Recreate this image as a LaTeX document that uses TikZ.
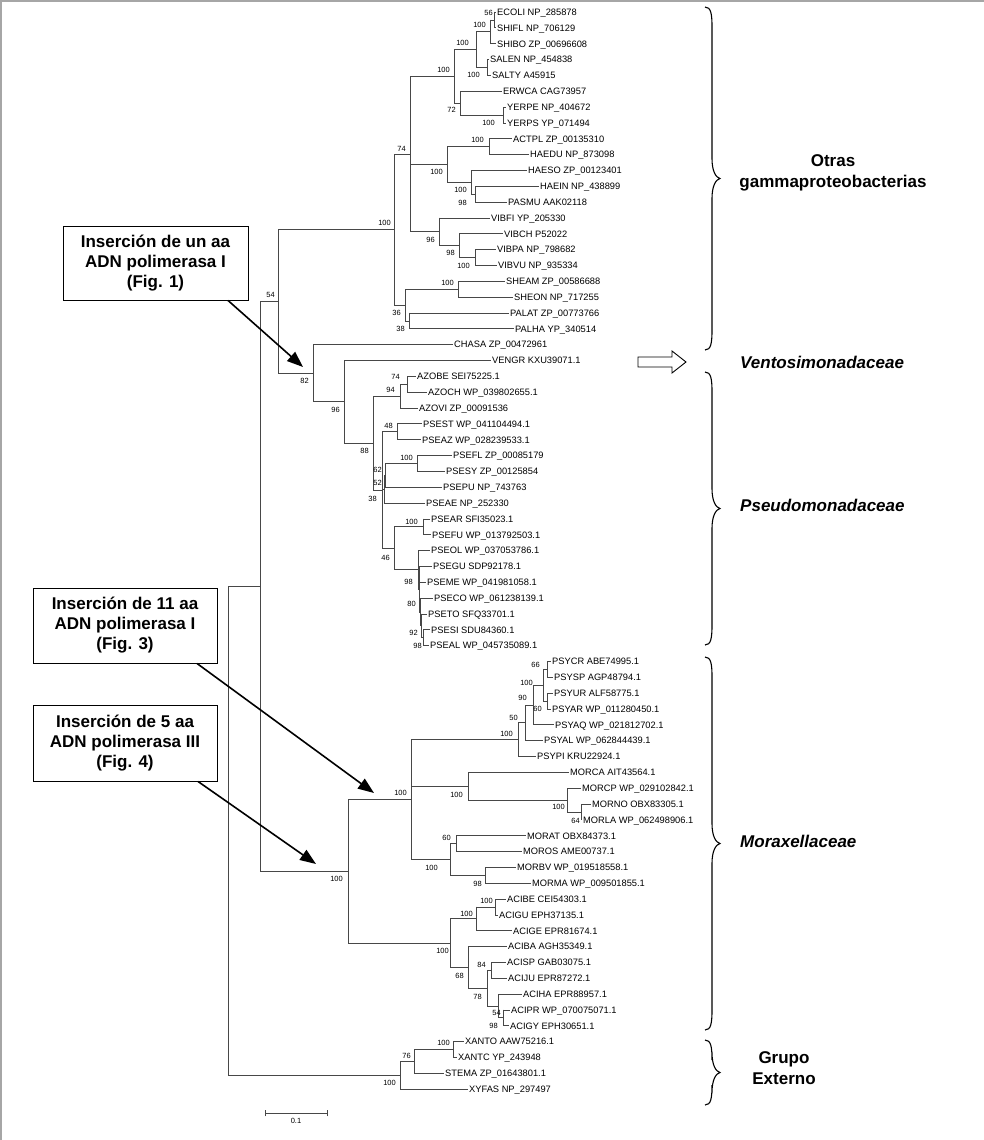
\documentclass[tikz,border=0pt]{standalone}
\usepackage{fontspec}
\setmainfont{Liberation Sans}
\usetikzlibrary{calc,arrows.meta}
\newcommand\leaffont{\fontsize{9.3}{11}\selectfont}
\newcommand\bsfont{\fontsize{7.5}{9}\selectfont}
\newcommand\bigfont{\fontsize{17}{21}\selectfont\bfseries}
\newcommand\boxfont{\fontsize{17}{20}\selectfont\bfseries}
\newcommand\lf[4]{\node[leaf] (#1) at ({#3-1.5},{12+15.84*(#2-1)}) {#4};}
\newcommand\cl[4]{%
  \path let \p1=(#3), \p2=(#4) in coordinate (#1) at (#2pt,{0.5*(\y1+\y2)});
  \draw[br] (#1 |- #3) -- (#1 |- #4);
  \draw[br] (#1 |- #3) -- (#3);
  \draw[br] (#1 |- #4) -- (#4);}
\newcommand\clm[5]{\cl{#1}{#2}{#3}{#4}\foreach \c in {#5} {\draw[br] (#1 |- \c) -- (\c);}}
\newcommand\bs[4]{\node[bsl] (#1) at (#3,#4) {#2};}
\newcommand\mybrace[3]{%
  \pgfmathsetmacro\bm{0.5*(#2+#3)}
  \draw[brc] (705,#2) .. controls (711,#2) and (712,{#2+7}) .. (712,{#2+20})
    -- (712,{\bm-20}) .. controls (712,{\bm-7}) and (716,{\bm-1}) .. (720,\bm)
    .. controls (716,{\bm+1}) and (712,{\bm+7}) .. (712,{\bm+20})
    -- (712,{#3-20}) .. controls (712,{#3-7}) and (711,#3) .. (705,#3);
  \coordinate (#1) at (720,\bm);}
\begin{document}
\begin{tikzpicture}[x=1pt,y=-1pt,
  leaf/.style={anchor=west, inner xsep=1.5pt, inner ysep=0pt, font=\leaffont, text height=6.7pt, text depth=0pt},
  br/.style={draw=black!72, line width=0.75pt, line cap=rect},
  bsl/.style={anchor=east, inner sep=0pt, font=\bsfont, text height=5.4pt, text depth=0pt},
  box/.style={draw, line width=0.9pt, align=center, font=\boxfont, inner sep=0pt, minimum width=185pt, minimum height=74pt},
  grp/.style={align=center, font=\bigfont, inner sep=0pt},
  brc/.style={draw=black, line width=1.1pt},
  arr/.style={line width=1.6pt, -{Triangle[length=16pt,width=12pt]}}]
\useasboundingbox (0,0) rectangle (984,1140);
\fill[white] (0,0) rectangle (984,1140);
\draw[gray!70, line width=1.3pt] (0,1) -- (984,1);
\draw[gray!70, line width=1.6pt] (1,0) -- (1,1140);
% leaves
\lf{ECOLI}{1}{497}{ECOLI NP\_285878}
\lf{SHIFL}{2}{497}{SHIFL NP\_706129}
\lf{SHIBO}{3}{497}{SHIBO ZP\_00696608}
\lf{SALEN}{4}{490}{SALEN NP\_454838}
\lf{SALTY}{5}{492}{SALTY A45915}
\lf{ERWCA}{6}{503}{ERWCA CAG73957}
\lf{YERPE}{7}{507}{YERPE NP\_404672}
\lf{YERPS}{8}{507}{YERPS YP\_071494}
\lf{ACTPL}{9}{513}{ACTPL ZP\_00135310}
\lf{HAEDU}{10}{530}{HAEDU NP\_873098}
\lf{HAESO}{11}{528}{HAESO ZP\_00123401}
\lf{HAEIN}{12}{540}{HAEIN NP\_438899}
\lf{PASMU}{13}{508}{PASMU AAK02118}
\lf{VIBFI}{14}{491}{VIBFI YP\_205330}
\lf{VIBCH}{15}{504}{VIBCH P52022}
\lf{VIBPA}{16}{497}{VIBPA NP\_798682}
\lf{VIBVU}{17}{498}{VIBVU NP\_935334}
\lf{SHEAM}{18}{506}{SHEAM ZP\_00586688}
\lf{SHEON}{19}{514}{SHEON NP\_717255}
\lf{PALAT}{20}{510}{PALAT ZP\_00773766}
\lf{PALHA}{21}{515}{PALHA YP\_340514}
\lf{CHASA}{22}{454}{CHASA ZP\_00472961}
\lf{VENGR}{23}{492}{VENGR KXU39071.1}
\lf{AZOBE}{24}{417}{AZOBE SEI75225.1}
\lf{AZOCH}{25}{428}{AZOCH WP\_039802655.1}
\lf{AZOVI}{26}{419}{AZOVI ZP\_00091536}
\lf{PSEST}{27}{423}{PSEST WP\_041104494.1}
\lf{PSEAZ}{28}{422}{PSEAZ WP\_028239533.1}
\lf{PSEFL}{29}{453}{PSEFL ZP\_00085179}
\lf{PSESY}{30}{446}{PSESY ZP\_00125854}
\lf{PSEPU}{31}{443}{PSEPU NP\_743763}
\lf{PSEAE}{32}{426}{PSEAE NP\_252330}
\lf{PSEAR}{33}{431}{PSEAR SFI35023.1}
\lf{PSEFU}{34}{432}{PSEFU WP\_013792503.1}
\lf{PSEOL}{35}{431}{PSEOL WP\_037053786.1}
\lf{PSEGU}{36}{433}{PSEGU SDP92178.1}
\lf{PSEME}{37}{427}{PSEME WP\_041981058.1}
\lf{PSECO}{38}{434}{PSECO WP\_061238139.1}
\lf{PSETO}{39}{428}{PSETO SFQ33701.1}
\lf{PSESI}{40}{431}{PSESI SDU84360.1}
\lf{PSEAL}{41}{430}{PSEAL WP\_045735089.1}
\lf{PSYCR}{42}{552}{PSYCR ABE74995.1}
\lf{PSYSP}{43}{554}{PSYSP AGP48794.1}
\lf{PSYUR}{44}{554}{PSYUR ALF58775.1}
\lf{PSYAR}{45}{552}{PSYAR WP\_011280450.1}
\lf{PSYAQ}{46}{555}{PSYAQ WP\_021812702.1}
\lf{PSYAL}{47}{544}{PSYAL WP\_062844439.1}
\lf{PSYPI}{48}{537}{PSYPI KRU22924.1}
\lf{MORCA}{49}{570}{MORCA AIT43564.1}
\lf{MORCP}{50}{582}{MORCP WP\_029102842.1}
\lf{MORNO}{51}{592}{MORNO OBX83305.1}
\lf{MORLA}{52}{583}{MORLA WP\_062498906.1}
\lf{MORAT}{53}{527}{MORAT OBX84373.1}
\lf{MOROS}{54}{523}{MOROS AME00737.1}
\lf{MORBV}{55}{517}{MORBV WP\_019518558.1}
\lf{MORMA}{56}{532}{MORMA WP\_009501855.1}
\lf{ACIBE}{57}{507}{ACIBE CEI54303.1}
\lf{ACIGU}{58}{499}{ACIGU EPH37135.1}
\lf{ACIGE}{59}{513}{ACIGE EPR81674.1}
\lf{ACIBA}{60}{508}{ACIBA AGH35349.1}
\lf{ACISP}{61}{507}{ACISP GAB03075.1}
\lf{ACIJU}{62}{508}{ACIJU EPR87272.1}
\lf{ACIHA}{63}{523}{ACIHA EPR88957.1}
\lf{ACIPR}{64}{511}{ACIPR WP\_070075071.1}
\lf{ACIGY}{65}{510}{ACIGY EPH30651.1}
\lf{XANTO}{66}{465}{XANTO AAW75216.1}
\lf{XANTC}{67}{458}{XANTC YP\_243948}
\lf{STEMA}{68}{445}{STEMA ZP\_01643801.1}
\lf{XYFAS}{69}{469}{XYFAS NP\_297497}
% internal nodes
\cl{nES}{494}{ECOLI}{SHIFL}
\cl{nESS}{490}{nES}{SHIBO}
\cl{nSAL}{487}{SALEN}{SALTY}
\cl{nESA}{476}{nESS}{nSAL}
\cl{nYER}{503}{YERPE}{YERPS}
\cl{nERW}{460}{ERWCA}{nYER}
\cl{nENT}{454}{nESA}{nERW}
\cl{nAH}{489}{ACTPL}{HAEDU}
\cl{nHP}{475}{HAEIN}{PASMU}
\cl{nHHP}{471}{HAESO}{nHP}
\cl{nPAS}{447}{nAH}{nHHP}
\cl{nVV}{475}{VIBPA}{VIBVU}
\cl{nVCH}{459}{VIBCH}{nVV}
\cl{nVIB}{439}{VIBFI}{nVCH}
\clm{nEPV}{410}{nENT}{nVIB}{nPAS}
\cl{nSHE}{458}{SHEAM}{SHEON}
\cl{nPAL}{409}{PALAT}{PALHA}
\cl{nSP}{405}{nSHE}{nPAL}
\cl{nOT}{394}{nEPV}{nSP}
\cl{nAZ2}{407}{AZOBE}{AZOCH}
\cl{nAZ}{400}{nAZ2}{AZOVI}
\cl{nSTAZ}{397}{PSEST}{PSEAZ}
\cl{nFS}{417}{PSEFL}{PSESY}
\cl{n62}{385.5}{nFS}{PSEPU}
\cl{n52}{384}{n62}{PSEAE}
\cl{nARFU}{423}{PSEAR}{PSEFU}
\cl{nSA}{423.5}{PSESI}{PSEAL}
\cl{n92}{421.5}{PSETO}{nSA}
\cl{n80}{420.5}{PSECO}{n92}
\clm{n98a}{419.5}{PSEGU}{n80}{PSEME}
\cl{nP2}{418}{PSEOL}{n98a}
\cl{n46}{394}{nARFU}{nP2}
\clm{nPSE}{382.5}{nSTAZ}{n46}{n52}
\cl{n88}{373}{nAZ}{nPSE}
\cl{n96}{344}{VENGR}{n88}
\cl{n82}{313}{CHASA}{n96}
\cl{n54}{278}{nOT}{n82}
\cl{nCS}{547}{PSYCR}{PSYSP}
\cl{nUA}{547}{PSYUR}{PSYAR}
\cl{n100p}{543}{nCS}{nUA}
\cl{n90}{533}{n100p}{PSYAQ}
\cl{n50}{525}{n90}{PSYAL}
\cl{nPSY}{518}{n50}{PSYPI}
\cl{nNL}{581}{MORNO}{MORLA}
\cl{nPNL}{567}{MORCP}{nNL}
\cl{nMOR1}{468}{MORCA}{nPNL}
\cl{nAO}{456}{MORAT}{MOROS}
\cl{nBM}{485}{MORBV}{MORMA}
\cl{nMOR2}{450}{nAO}{nBM}
\clm{nPM}{411}{nPSY}{nMOR2}{nMOR1}
\cl{nBG}{495.5}{ACIBE}{ACIGU}
\cl{nBGE}{476}{nBG}{ACIGE}
\cl{nSJ}{491}{ACISP}{ACIJU}
\cl{nPG}{503}{ACIPR}{ACIGY}
\cl{nHPG}{498}{ACIHA}{nPG}
\cl{n78}{487}{nSJ}{nHPG}
\cl{n68}{468}{ACIBA}{n78}
\cl{nACI}{450}{nBGE}{n68}
\cl{nMX}{348}{nPM}{nACI}
\cl{n260}{260}{n54}{nMX}
\cl{nXX}{453}{XANTO}{XANTC}
\cl{n76}{414}{nXX}{STEMA}
\cl{nOUT}{400}{n76}{XYFAS}
\cl{nROOT}{228}{n260}{nOUT}
% bootstrap values
\bs{b1}{56}{493}{13}
\bs{b2}{100}{486}{25}
\bs{b3}{100}{480}{75}
\bs{b4}{100}{469}{43}
\bs{b5}{72}{456}{110}
\bs{b6}{100}{495}{123}
\bs{b7}{100}{450}{70}
\bs{b8}{74}{406}{149}
\bs{b9}{100}{484}{140}
\bs{b10}{100}{467}{190}
\bs{b11}{98}{467}{203}
\bs{b12}{100}{443}{172}
\bs{b13}{96}{435}{240}
\bs{b14}{98}{455}{253}
\bs{b15}{100}{470}{266}
\bs{b16}{100}{454}{283}
\bs{b17}{36}{401}{313}
\bs{b18}{38}{405}{329}
\bs{b19}{100}{391}{223}
\bs{b20}{54}{275}{295}
\bs{b21}{82}{309}{381}
\bs{b22}{96}{340}{410}
\bs{b23}{88}{369}{451}
\bs{b24}{74}{400}{377}
\bs{b25}{94}{395}{390}
\bs{b26}{48}{393}{426}
\bs{b27}{100}{413}{458}
\bs{b28}{62}{382}{470}
\bs{b29}{52}{382}{483}
\bs{b30}{38}{377}{499}
\bs{b31}{100}{418}{522}
\bs{b32}{46}{390}{558}
\bs{b33}{98}{413}{582}
\bs{b34}{80}{416}{604}
\bs{b35}{92}{418}{633}
\bs{b36}{98}{422}{646}
\bs{b37}{66}{540}{665}
\bs{b38}{100}{533}{683}
\bs{b39}{90}{527}{698}
\bs{b40}{60}{542}{709}
\bs{b41}{50}{518}{718}
\bs{b42}{100}{513}{734}
\bs{b43}{100}{463}{795}
\bs{b44}{100}{565}{807}
\bs{b45}{64}{580}{821}
\bs{b46}{100}{407}{793}
\bs{b47}{60}{451}{838}
\bs{b48}{100}{438}{868}
\bs{b49}{98}{482}{884}
\bs{b50}{100}{343}{879}
\bs{b51}{100}{493}{901}
\bs{b52}{100}{473}{914}
\bs{b53}{100}{449}{951}
\bs{b54}{84}{486}{965}
\bs{b55}{68}{464}{976}
\bs{b56}{78}{482}{997}
\bs{b57}{54}{501}{1013}
\bs{b58}{98}{498}{1026}
\bs{b59}{100}{450}{1043}
\bs{b60}{76}{411}{1056}
\bs{b61}{100}{396}{1083}
% scale bar
\coordinate (sbA) at (265,1113);
\coordinate (sbB) at (327,1113);
\draw[br, line width=0.6pt] (sbA) -- (sbB);
\draw[br, line width=0.6pt] ([yshift=-3pt]sbA) -- ([yshift=3pt]sbA);
\draw[br, line width=0.6pt] ([yshift=-3pt]sbB) -- ([yshift=3pt]sbB);
\node[bsl, anchor=center] (sbl) at (296,1121) {0.1};
% boxes and arrows
\node[box] (box1) at (155.5,263) {Inserción de un aa\\ADN polimerasa I\\(Fig. 1)};
\node[box, minimum width=184pt, minimum height=75pt] (box2) at (125,625.5) {Inserción de 11 aa\\ADN polimerasa I\\(Fig. 3)};
\node[box, minimum width=184pt, minimum height=76pt] (box3) at (125,743) {Inserción de 5 aa\\ADN polimerasa III\\(Fig. 4)};
\coordinate (t1) at (303,367);
\coordinate (t2) at (374,793);
\coordinate (t3) at (316,864);
\draw[arr] ([xshift=72.5pt]box1.south) -- (t1);
\draw[arr] ([xshift=72pt]box2.south) -- (t2);
\draw[arr] ([xshift=73pt]box3.south) -- (t3);
% braces and group labels
\mybrace{br1}{7}{350}
\mybrace{br2}{372}{645}
\mybrace{br3}{657}{1030}
\mybrace{br4}{1040}{1105}
\node[grp] (lotras) at (833,172.5) {Otras\\gammaproteobacterias};
\draw[line width=0.9pt] (638,357) -- (672,357) -- (672,351) -- (686,362) -- (672,373) -- (672,367) -- (638,367) -- cycle;
\node[grp, anchor=west] (lvent) at (740,362) {\itshape Ventosimonadaceae};
\node[grp, anchor=west] (lpseu) at (740,505) {\itshape Pseudomonadaceae};
\node[grp, anchor=west] (lmora) at (740,841) {\itshape Moraxellaceae};
\node[grp] (lext) at (784,1068.5) {Grupo\\Externo};
\end{tikzpicture}
\end{document}
